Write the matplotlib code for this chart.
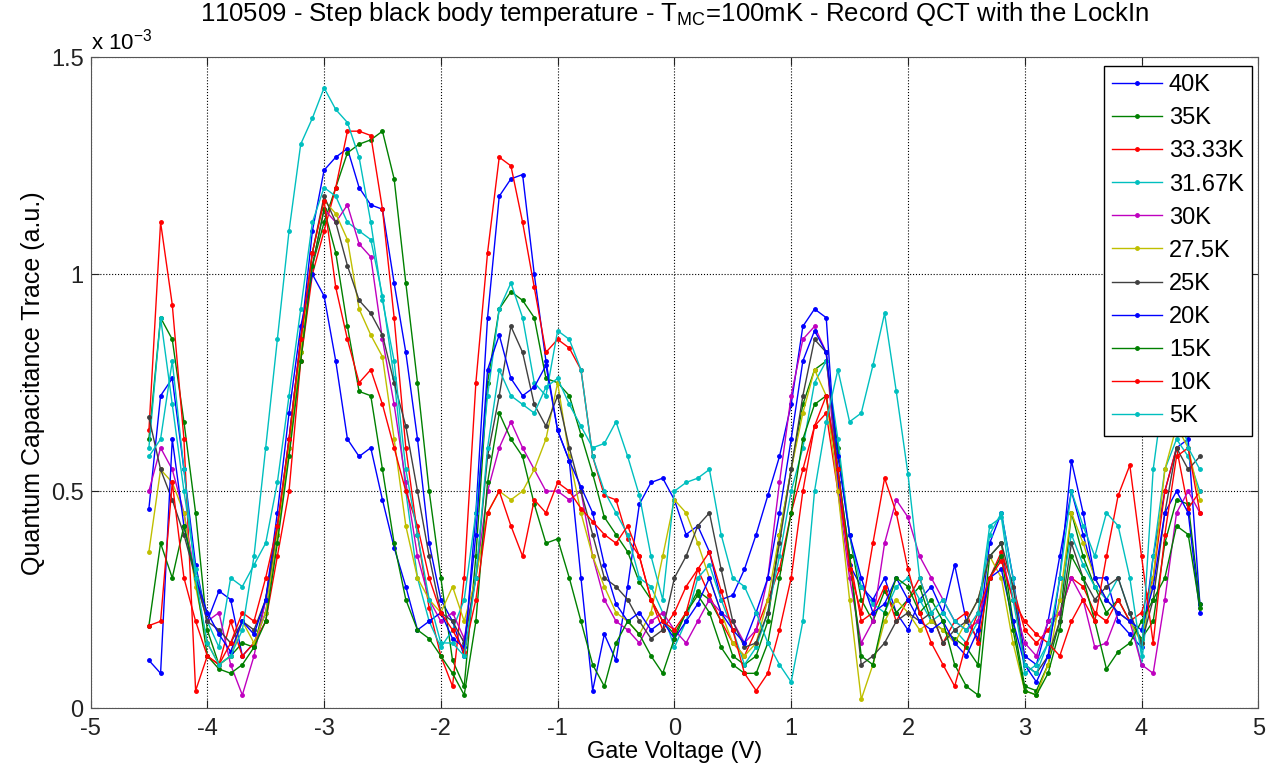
import numpy as np
import matplotlib; matplotlib.use("Agg")
import matplotlib.pyplot as plt

plt.rcParams['font.family'] = ['Liberation Sans', 'DejaVu Sans']
plt.rcParams['axes.unicode_minus'] = False

# gate voltage sweep, -4.5 V .. 4.5 V in 0.1 V steps
gate_v = np.linspace(-4.5, 4.5, 91)

# quantum capacitance trace, units of 1e-3 (a.u.)
qct_40K = [0.46, 0.72, 0.76, 0.55, 0.33, 0.2, 0.27, 0.25, 0.12, 0.15,
           0.22, 0.4, 0.62, 0.85, 1.1, 1.24, 1.27, 1.29, 1.2, 1.16,
           1.15, 0.98, 0.82, 0.62, 0.38, 0.25, 0.2, 0.12, 0.45, 0.9,
           1.18, 1.22, 1.23, 1.0, 0.8, 0.64, 0.57, 0.3, 0.04, 0.17,
           0.11, 0.28, 0.47, 0.52, 0.53, 0.48, 0.4, 0.42, 0.36, 0.25,
           0.26, 0.32, 0.4, 0.49, 0.58, 0.7, 0.88, 0.92, 0.9, 0.52,
           0.33, 0.28, 0.25, 0.3, 0.22, 0.18, 0.25, 0.28, 0.22, 0.33,
           0.2, 0.16, 0.38, 0.45, 0.3, 0.12, 0.1, 0.2, 0.35, 0.5,
           0.4, 0.3, 0.3, 0.2, 0.17, 0.14, 0.35, 0.5, 0.6, 0.62, 0.24]
qct_35K = [0.62, 0.9, 0.85, 0.66, 0.45, 0.18, 0.1, 0.12, 0.15, 0.14,
           0.25, 0.4, 0.6, 0.82, 1.02, 1.12, 1.2, 1.28, 1.3, 1.31,
           1.33, 1.22, 0.98, 0.75, 0.5, 0.3, 0.11, 0.05, 0.35, 0.75,
           0.92, 0.96, 0.94, 0.9, 0.76, 0.75, 0.72, 0.63, 0.54, 0.44,
           0.4, 0.36, 0.29, 0.25, 0.2, 0.17, 0.22, 0.27, 0.25, 0.2,
           0.12, 0.1, 0.12, 0.2, 0.4, 0.55, 0.7, 0.78, 0.8, 0.6,
           0.4, 0.25, 0.2, 0.27, 0.22, 0.25, 0.28, 0.2, 0.18, 0.16,
           0.14, 0.1, 0.35, 0.38, 0.2, 0.05, 0.04, 0.1, 0.2, 0.45,
           0.35, 0.28, 0.22, 0.25, 0.2, 0.16, 0.2, 0.38, 0.48, 0.47, 0.24]
qct_33K = [0.64, 1.12, 0.93, 0.62, 0.04, 0.12, 0.1, 0.2, 0.12, 0.15,
           0.2, 0.35, 0.5, 0.8, 1.0, 1.1, 1.2, 1.33, 1.33, 1.32,
           1.15, 0.9, 0.6, 0.4, 0.23, 0.12, 0.05, 0.3, 0.75, 1.05,
           1.27, 1.25, 1.12, 0.97, 0.82, 0.85, 0.83, 0.78, 0.58, 0.49,
           0.48, 0.39, 0.35, 0.25, 0.18, 0.22, 0.28, 0.32, 0.26, 0.2,
           0.15, 0.12, 0.18, 0.25, 0.32, 0.45, 0.55, 0.65, 0.68, 0.5,
           0.35, 0.2, 0.22, 0.28, 0.2, 0.25, 0.3, 0.22, 0.15, 0.2,
           0.22, 0.15, 0.3, 0.36, 0.28, 0.18, 0.15, 0.18, 0.22, 0.3,
           0.28, 0.22, 0.2, 0.25, 0.2, 0.22, 0.3, 0.5, 0.6, 0.46, 0.5]
qct_31K = [0.6, 0.9, 0.7, 0.5, 0.32, 0.2, 0.14, 0.3, 0.28, 0.33,
           0.38, 0.52, 0.72, 0.92, 1.12, 1.2, 1.18, 1.12, 1.1, 1.08,
           0.95, 0.76, 0.5, 0.3, 0.2, 0.14, 0.18, 0.25, 0.45, 0.72,
           0.92, 0.98, 0.9, 0.75, 0.72, 0.87, 0.85, 0.78, 0.58, 0.5,
           0.45, 0.4, 0.3, 0.28, 0.22, 0.14, 0.2, 0.3, 0.33, 0.25,
           0.18, 0.1, 0.14, 0.22, 0.35, 0.5, 0.6, 0.75, 0.8, 0.62,
           0.4, 0.28, 0.24, 0.22, 0.28, 0.3, 0.25, 0.2, 0.22, 0.18,
           0.15, 0.2, 0.4, 0.45, 0.3, 0.08, 0.1, 0.15, 0.25, 0.4,
           0.33, 0.28, 0.25, 0.3, 0.22, 0.1, 0.35, 0.55, 0.62, 0.58, 0.5]
qct_30K = [0.5, 0.6, 0.55, 0.45, 0.3, 0.2, 0.22, 0.1, 0.03, 0.12,
           0.25, 0.42, 0.6, 0.85, 1.02, 1.15, 1.12, 1.16, 1.07, 1.04,
           0.85, 0.7, 0.52, 0.35, 0.25, 0.2, 0.22, 0.16, 0.3, 0.5,
           0.6, 0.66, 0.6, 0.55, 0.5, 0.5, 0.48, 0.5, 0.35, 0.25,
           0.2, 0.18, 0.15, 0.2, 0.22, 0.18, 0.15, 0.2, 0.25, 0.22,
           0.2, 0.15, 0.18, 0.3, 0.52, 0.72, 0.85, 0.88, 0.82, 0.5,
           0.3, 0.15, 0.2, 0.38, 0.48, 0.44, 0.35, 0.3, 0.25, 0.2,
           0.18, 0.2, 0.3, 0.35, 0.25, 0.15, 0.12, 0.2, 0.22, 0.3,
           0.25, 0.14, 0.15, 0.22, 0.2, 0.1, 0.08, 0.25, 0.45, 0.5, 0.45]
qct_27K = [0.36, 0.55, 0.52, 0.45, 0.28, 0.15, 0.1, 0.12, 0.2, 0.15,
           0.22, 0.4, 0.6, 0.82, 1.05, 1.17, 1.14, 1.08, 0.92, 0.86,
           0.81, 0.62, 0.42, 0.3, 0.25, 0.22, 0.28, 0.2, 0.3, 0.45,
           0.5, 0.48, 0.5, 0.55, 0.62, 0.75, 0.58, 0.45, 0.35, 0.28,
           0.22, 0.2, 0.17, 0.22, 0.35, 0.48, 0.45, 0.38, 0.3, 0.22,
           0.15, 0.12, 0.15, 0.25, 0.4, 0.55, 0.68, 0.78, 0.72, 0.5,
           0.25, 0.02, 0.1, 0.2, 0.25, 0.22, 0.18, 0.2, 0.18, 0.15,
           0.2, 0.25, 0.35, 0.3, 0.15, 0.04, 0.03, 0.1, 0.25, 0.45,
           0.38, 0.3, 0.25, 0.22, 0.2, 0.15, 0.3, 0.55, 0.65, 0.6, 0.48]
qct_25K = [0.67, 0.55, 0.48, 0.4, 0.3, 0.2, 0.18, 0.15, 0.2, 0.18,
           0.25, 0.42, 0.62, 0.85, 1.05, 1.18, 1.12, 1.02, 0.94, 0.91,
           0.86, 0.75, 0.65, 0.5, 0.35, 0.22, 0.2, 0.15, 0.3, 0.58,
           0.72, 0.88, 0.82, 0.7, 0.65, 0.72, 0.6, 0.5, 0.4, 0.3,
           0.28, 0.25, 0.2, 0.16, 0.18, 0.3, 0.35, 0.42, 0.45, 0.32,
           0.2, 0.14, 0.15, 0.22, 0.38, 0.55, 0.72, 0.85, 0.82, 0.55,
           0.35, 0.1, 0.12, 0.15, 0.2, 0.22, 0.2, 0.22, 0.15, 0.18,
           0.2, 0.25, 0.35, 0.38, 0.28, 0.1, 0.08, 0.12, 0.2, 0.38,
           0.3, 0.25, 0.28, 0.3, 0.22, 0.15, 0.25, 0.45, 0.6, 0.55, 0.58]
qct_20K = [0.11, 0.08, 0.62, 0.42, 0.3, 0.22, 0.17, 0.13, 0.2, 0.17,
           0.25, 0.45, 0.68, 0.88, 1.0, 0.95, 0.8, 0.62, 0.58, 0.6,
           0.48, 0.37, 0.28, 0.18, 0.2, 0.22, 0.16, 0.14, 0.4, 0.78,
           0.86, 0.76, 0.72, 0.74, 0.79, 0.64, 0.57, 0.51, 0.45, 0.33,
           0.24, 0.2, 0.22, 0.18, 0.2, 0.16, 0.2, 0.24, 0.3, 0.22,
           0.18, 0.15, 0.22, 0.3, 0.45, 0.62, 0.8, 0.87, 0.82, 0.58,
           0.4, 0.3, 0.22, 0.24, 0.3, 0.25, 0.2, 0.18, 0.2, 0.15,
           0.12, 0.18, 0.3, 0.32, 0.2, 0.1, 0.06, 0.12, 0.3, 0.57,
           0.45, 0.3, 0.25, 0.22, 0.2, 0.18, 0.28, 0.45, 0.5, 0.45, 0.22]
qct_15K = [0.19, 0.38, 0.3, 0.42, 0.3, 0.12, 0.09, 0.08, 0.1, 0.14,
           0.2, 0.38, 0.58, 0.8, 1.02, 1.15, 1.05, 0.88, 0.73, 0.72,
           0.55, 0.38, 0.25, 0.18, 0.16, 0.12, 0.08, 0.03, 0.2, 0.52,
           0.68, 0.62, 0.58, 0.47, 0.38, 0.39, 0.3, 0.2, 0.1, 0.05,
           0.15, 0.2, 0.17, 0.12, 0.08, 0.16, 0.22, 0.26, 0.22, 0.14,
           0.1, 0.08, 0.08, 0.15, 0.3, 0.45, 0.62, 0.7, 0.72, 0.55,
           0.35, 0.12, 0.1, 0.22, 0.3, 0.28, 0.22, 0.25, 0.2, 0.1,
           0.05, 0.03, 0.3, 0.35, 0.18, 0.04, 0.03, 0.08, 0.18, 0.35,
           0.3, 0.2, 0.09, 0.13, 0.15, 0.2, 0.25, 0.3, 0.42, 0.4, 0.23]
qct_10K = [0.19, 0.2, 0.52, 0.3, 0.2, 0.12, 0.1, 0.15, 0.22, 0.2,
           0.3, 0.42, 0.62, 0.85, 1.05, 1.17, 0.97, 0.85, 0.75, 0.78,
           0.7, 0.6, 0.5, 0.42, 0.3, 0.22, 0.18, 0.13, 0.25, 0.45,
           0.5, 0.42, 0.35, 0.48, 0.45, 0.52, 0.5, 0.46, 0.43, 0.4,
           0.38, 0.42, 0.35, 0.25, 0.2, 0.18, 0.22, 0.32, 0.36, 0.27,
           0.18, 0.08, 0.04, 0.08, 0.18, 0.3, 0.5, 0.65, 0.72, 0.55,
           0.32, 0.22, 0.38, 0.53, 0.45, 0.32, 0.22, 0.15, 0.1, 0.05,
           0.15, 0.22, 0.3, 0.34, 0.25, 0.2, 0.17, 0.15, 0.12, 0.2,
           0.25, 0.2, 0.35, 0.49, 0.56, 0.35, 0.15, 0.4, 0.58, 0.6, 0.45]
qct_5K = [0.58, 0.62, 0.8, 0.55, 0.3, 0.15, 0.1, 0.12, 0.18, 0.35,
          0.6, 0.85, 1.1, 1.3, 1.36, 1.43, 1.38, 1.35, 1.27, 1.12,
          0.94, 0.8, 0.55, 0.4, 0.25, 0.15, 0.15, 0.12, 0.3, 0.6,
          0.78, 0.72, 0.7, 0.68, 0.74, 0.76, 0.7, 0.65, 0.6, 0.61,
          0.66, 0.58, 0.49, 0.35, 0.25, 0.5, 0.52, 0.53, 0.55, 0.4,
          0.3, 0.28, 0.22, 0.15, 0.1, 0.06, 0.2, 0.5, 0.66, 0.78,
          0.66, 0.68, 0.79, 0.91, 0.73, 0.54, 0.3, 0.22, 0.25, 0.2,
          0.18, 0.22, 0.42, 0.44, 0.25, 0.1, 0.08, 0.15, 0.3, 0.5,
          0.42, 0.35, 0.45, 0.42, 0.3, 0.12, 0.55, 0.75, 0.72, 0.6, 0.55]

labels = ["40K", "35K", "33.33K", "31.67K", "30K", "27.5K", "25K", "20K", "15K", "10K", "5K"]
traces = [qct_40K, qct_35K, qct_33K, qct_31K, qct_30K, qct_27K, qct_25K,
          qct_20K, qct_15K, qct_10K, qct_5K]
# matlab default line colours, cycled
colors = ["#0000ff", "#008000", "#ff0000", "#00bfbf", "#bf00bf", "#bfbf00", "#404040",
          "#0000ff", "#008000", "#ff0000", "#00bfbf"]

fig = plt.figure(figsize=(12.66, 7.69), dpi=100)
ax = fig.add_axes([0.0715, 0.0793, 0.9224, 0.846])
for tr, lab, c in zip(traces, labels, colors):
    ax.plot(gate_v, tr, "-", color=c, lw=1, marker=".", ms=5, label=lab)

ax.set_xlim(-5, 5); ax.set_ylim(0, 1.5)
ax.set_xticks(range(-5, 6))
ax.set_yticks([0, 0.5, 1, 1.5]); ax.set_yticklabels(["0", "0.5", "1", "1.5"])
ax.grid(True, ls=":", color="k", lw=0.8)
ax.tick_params(direction="in", top=True, right=True, labelsize=17, length=6, colors="#222222")
ax.tick_params(axis="x", pad=7)
ax.tick_params(axis="y", pad=5)
for s in ax.spines.values():
    s.set_color("#555555")
ax.set_xlabel("Gate Voltage (V)", fontsize=17, labelpad=1)
ax.set_ylabel("Quantum Capacitance Trace (a.u.)", fontsize=18, labelpad=4)
ax.set_title("110509 - Step black body temperature - T$_\\mathregular{MC}$=100mK - Record QCT with the LockIn",
             fontsize=18.5, pad=26)
fig.text(0.072, 0.935, "x 10$^\\mathregular{-3}$", fontsize=16)

leg = ax.legend(loc="upper right", bbox_to_anchor=(1252/1266, 1 - 66/769),
                bbox_transform=fig.transFigure, borderaxespad=0, fontsize=17,
                fancybox=False, framealpha=1, edgecolor="k", handlelength=2.1,
                handletextpad=0.3, labelspacing=0.47, borderpad=0.35)
leg.get_frame().set_linewidth(1.0)

fig.savefig("out.png", dpi=100)
